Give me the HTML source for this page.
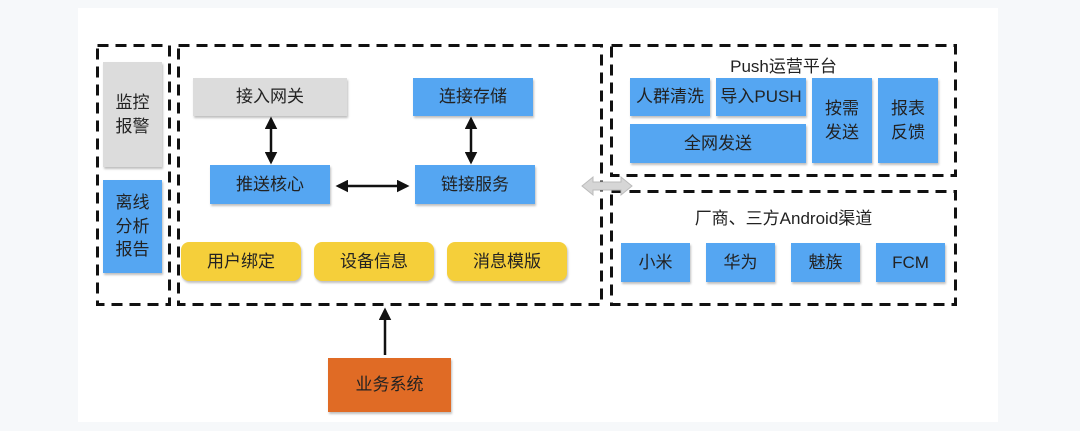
<!DOCTYPE html>
<html><head><meta charset="utf-8"><style>
body{margin:0;width:1080px;height:431px;background:#f6f8fa;position:relative;overflow:hidden;font-family:"Liberation Sans","Noto Sans CJK SC",sans-serif;}
.panel{position:absolute;left:78px;top:8px;width:920px;height:414px;background:#fff;}
.b{position:absolute;display:flex;align-items:center;justify-content:center;text-align:center;font-size:17px;color:#222;box-shadow:1px 2px 2px rgba(0,0,0,.25);box-sizing:border-box;line-height:1.4;}
.bl{background:#55a6f2;}
.gr{background:#dcdcdc;}
.ye{background:#f5cf3a;border-radius:8px;}
.t{position:absolute;font-size:17px;color:#222;text-align:center;}
</style></head><body>
<div class="panel"></div>
<svg width="1080" height="431" style="position:absolute;left:0;top:0">
<g stroke="#111" stroke-width="3" fill="none" stroke-dasharray="11 7">
<rect x="97.5" y="45.5" width="72" height="259"/>
<rect x="178.5" y="45.5" width="423" height="259"/>
<rect x="611.5" y="45.5" width="344" height="130"/>
<rect x="611.5" y="191.5" width="344" height="113"/>
</g>
</svg>

<div class="b gr" style="left:103px;top:62px;width:59px;height:105px">监控<br>报警</div>
<div class="b bl" style="left:103px;top:180px;width:59px;height:93px">离线<br>分析<br>报告</div>

<div class="b gr" style="left:193px;top:78px;width:154px;height:38px">接入网关</div>
<div class="b bl" style="left:413px;top:78px;width:120px;height:38px">连接存储</div>
<div class="b bl" style="left:210px;top:165px;width:120px;height:39px">推送核心</div>
<div class="b bl" style="left:415px;top:165px;width:120px;height:39px">链接服务</div>
<div class="b ye" style="left:181px;top:242px;width:120px;height:39px">用户绑定</div>
<div class="b ye" style="left:314px;top:242px;width:120px;height:39px">设备信息</div>
<div class="b ye" style="left:447px;top:242px;width:120px;height:39px">消息模版</div>

<div class="t" style="left:610px;top:52px;width:347px;">Push运营平台</div>
<div class="b bl" style="left:630px;top:78px;width:80px;height:38px">人群清洗</div>
<div class="b bl" style="left:716px;top:78px;width:90px;height:38px">导入PUSH</div>
<div class="b bl" style="left:630px;top:124px;width:176px;height:39px">全网发送</div>
<div class="b bl" style="left:812px;top:78px;width:60px;height:85px">按需<br>发送</div>
<div class="b bl" style="left:878px;top:78px;width:60px;height:85px">报表<br>反馈</div>

<div class="t" style="left:610px;top:204px;width:347px;">厂商、三方Android渠道</div>
<div class="b bl" style="left:621px;top:243px;width:69px;height:39px">小米</div>
<div class="b bl" style="left:706px;top:243px;width:69px;height:39px">华为</div>
<div class="b bl" style="left:791px;top:243px;width:69px;height:39px">魅族</div>
<div class="b bl" style="left:876px;top:243px;width:69px;height:39px">FCM</div>

<div class="b" style="left:328px;top:358px;width:123px;height:54px;background:#e06b25;">业务系统</div>

<svg width="1080" height="431" style="position:absolute;left:0;top:0">
<defs>
<marker id="a" viewBox="0 0 10 10" refX="8" refY="5" markerWidth="5" markerHeight="5" orient="auto-start-reverse"><path d="M0,0L10,5L0,10z" fill="#111"/></marker>
</defs>
<g stroke="#111" stroke-width="2.5" fill="none">
<line x1="271" y1="119" x2="271" y2="162" marker-start="url(#a)" marker-end="url(#a)"/>
<line x1="471" y1="119" x2="471" y2="162" marker-start="url(#a)" marker-end="url(#a)"/>
<line x1="338" y1="186" x2="407" y2="186" marker-start="url(#a)" marker-end="url(#a)"/>
<line x1="385" y1="355" x2="385" y2="310" marker-end="url(#a)"/>
</g>
<path d="M582,186 L593,177 L593,182 L621,182 L621,177 L632,186 L621,195 L621,190 L593,190 L593,195 Z" fill="#d6d6d6" stroke="#bbb" stroke-width="1"/>
</svg>
</body></html>
